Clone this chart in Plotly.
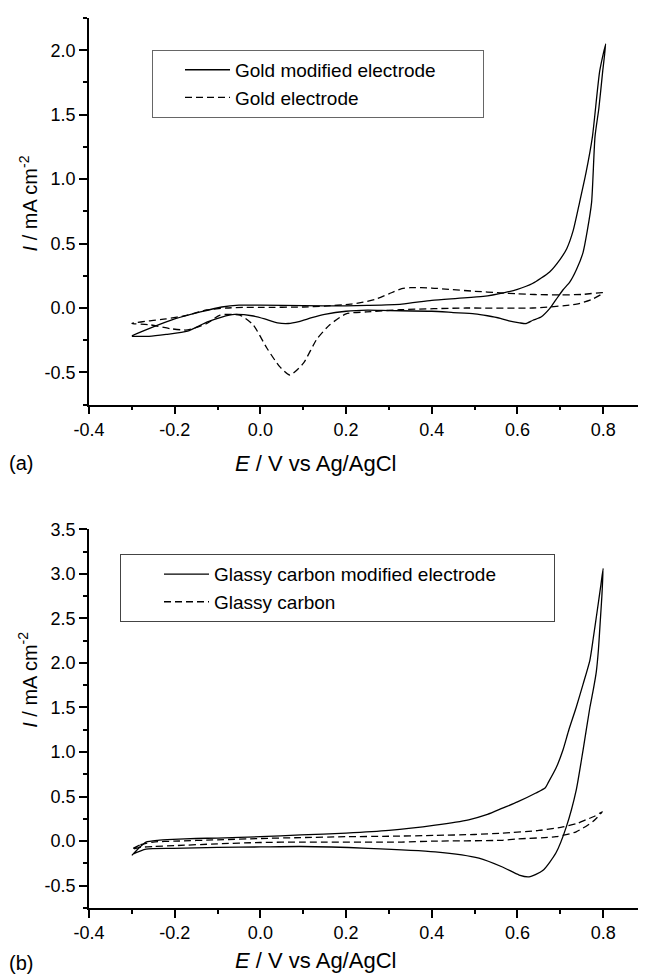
import plotly.graph_objects as go

# ---------------- data ----------------
# (a) Gold modified electrode: forward scan then reverse scan (E in V, I in mA cm-2)
GOLD_MOD_E = [-0.30, -0.26, -0.20, -0.14, -0.09, -0.05, 0.00, 0.10, 0.20, 0.25, 0.33, 0.40, 0.46,
              0.52, 0.57, 0.60, 0.635, 0.675, 0.70, 0.715, 0.73, 0.745, 0.76, 0.775, 0.792, 0.806,
              0.799, 0.79, 0.781, 0.773, 0.763, 0.753, 0.738, 0.722, 0.706, 0.69, 0.675, 0.655,
              0.636, 0.62, 0.605, 0.58, 0.56, 0.53, 0.50, 0.45, 0.40, 0.30, 0.25, 0.20, 0.15,
              0.12, 0.09, 0.065, 0.04, 0.01, -0.02, -0.06, -0.09, -0.125, -0.17, -0.22, -0.26, -0.30]
GOLD_MOD_I = [-0.215, -0.16, -0.085, -0.03, 0.008, 0.022, 0.022, 0.018, 0.017, 0.02, 0.03, 0.06, 0.075,
              0.09, 0.12, 0.145, 0.19, 0.28, 0.38, 0.46, 0.60, 0.82, 1.05, 1.33, 1.84, 2.05,
              1.84, 1.55, 1.33, 0.82, 0.60, 0.43, 0.30, 0.20, 0.14, 0.065, -0.005, -0.07,
              -0.095, -0.12, -0.115, -0.10, -0.08, -0.06, -0.045, -0.035, -0.025, -0.02, -0.017, -0.025, -0.05,
              -0.075, -0.105, -0.12, -0.115, -0.085, -0.06, -0.05, -0.07, -0.11, -0.18, -0.205, -0.22, -0.22]

# (a) Gold electrode
GOLD_E = [-0.30, -0.26, -0.22, -0.17, -0.125, -0.08, -0.04, 0.00, 0.10, 0.15, 0.21, 0.24, 0.27,
          0.30, 0.33, 0.35, 0.40, 0.44, 0.50, 0.56, 0.60, 0.64, 0.70, 0.75, 0.80,
          0.776, 0.738, 0.636, 0.48, 0.326, 0.248, 0.20, 0.162, 0.132, 0.10, 0.069, 0.045,
          0.015, -0.017, -0.048, -0.094, -0.125, -0.17, -0.21, -0.258, -0.30]
GOLD_I = [-0.12, -0.10, -0.085, -0.055, -0.015, 0.0, 0.005, 0.005, 0.008, 0.015, 0.03, 0.045, 0.07,
          0.11, 0.15, 0.158, 0.155, 0.145, 0.13, 0.118, 0.11, 0.105, 0.102, 0.105, 0.118,
          0.07, 0.03, 0.0, 0.0, -0.013, -0.03, -0.045, -0.13, -0.24, -0.43, -0.52, -0.455,
          -0.31, -0.13, -0.055, -0.055, -0.12, -0.17, -0.16, -0.13, -0.12]

# (b) Glassy carbon modified electrode
GC_MOD_E = [-0.30, -0.28, -0.267, -0.24, -0.204, -0.15, -0.10, 0.00, 0.094, 0.20, 0.30, 0.408,
            0.486, 0.53, 0.565, 0.60, 0.643, 0.665, 0.671, 0.69, 0.706, 0.72, 0.737, 0.753, 0.769,
            0.777, 0.786, 0.794, 0.80,
            0.797, 0.793, 0.789, 0.784, 0.777, 0.769, 0.753, 0.737, 0.714, 0.69, 0.659, 0.627,
            0.604, 0.565, 0.51, 0.408, 0.251, 0.094, 0.00, -0.10, -0.204, -0.267, -0.30]
GC_MOD_I = [-0.16, -0.06, -0.01, 0.01, 0.02, 0.03, 0.035, 0.05, 0.07, 0.09, 0.12, 0.18,
            0.24, 0.30, 0.37, 0.44, 0.54, 0.60, 0.65, 0.82, 1.02, 1.25, 1.50, 1.76, 2.03,
            2.28, 2.58, 2.85, 3.06,
            2.75, 2.45, 2.15, 1.90, 1.70, 1.50, 1.02, 0.57, 0.16, -0.13, -0.33, -0.40,
            -0.38, -0.29, -0.19, -0.12, -0.08, -0.06, -0.065, -0.07, -0.08, -0.09, -0.15]

# (b) Glassy carbon
GC_E = [-0.30, -0.28, -0.25, -0.20, -0.10, 0.00, 0.094, 0.20, 0.30, 0.408, 0.50, 0.565, 0.65,
        0.706, 0.74, 0.76, 0.78, 0.798,
        0.776, 0.737, 0.69, 0.60, 0.565, 0.40, 0.33, 0.094, 0.00, -0.10, -0.20, -0.25, -0.28, -0.30]
GC_I = [-0.09, -0.04, -0.01, 0.0, 0.015, 0.03, 0.04, 0.05, 0.055, 0.065, 0.075, 0.09, 0.12,
        0.16, 0.20, 0.24, 0.28, 0.33,
        0.22, 0.105, 0.05, 0.025, 0.01, 0.0, -0.01, -0.01, -0.015, -0.03, -0.05, -0.06, -0.07, -0.09]

X_TICKS = [-0.4, -0.2, 0.0, 0.2, 0.4, 0.6, 0.8]
X_LABELS = ["-0.4", "-0.2", "0.0", "0.2", "0.4", "0.6", "0.8"]
YA_TICKS = [-0.5, 0.0, 0.5, 1.0, 1.5, 2.0]
YA_LABELS = ["-0.5", "0.0", "0.5", "1.0", "1.5", "2.0"]
YB_TICKS = [-0.5, 0.0, 0.5, 1.0, 1.5, 2.0, 2.5, 3.0, 3.5]
YB_LABELS = ["-0.5", "0.0", "0.5", "1.0", "1.5", "2.0", "2.5", "3.0", "3.5"]

LEG_A = ["Gold modified electrode", "Gold electrode"]
LEG_B = ["Glassy carbon modified electrode", "Glassy carbon"]

X_TITLE = "<i>E</i> / V vs Ag/AgCl"
Y_TITLE = "<i>I</i> / mA cm<sup>-2</sup>"

# ---------------- figure ----------------
FONT = "Liberation Sans, Arial, Helvetica, sans-serif"
SOLID = dict(color="black", width=1.3, shape="spline", smoothing=0.6)
DASHED = dict(color="black", width=1.3, dash="7px,4px", shape="spline", smoothing=0.6)
PAD = "\u00a0"  # widens the legend frames like the reference

fig = go.Figure()
fig.add_trace(go.Scatter(x=GOLD_MOD_E, y=GOLD_MOD_I, mode="lines", name=LEG_A[0] + PAD * 8,
                         line=SOLID, xaxis="x", yaxis="y", legend="legend"))
fig.add_trace(go.Scatter(x=GOLD_E, y=GOLD_I, mode="lines", name=LEG_A[1],
                         line=DASHED, xaxis="x", yaxis="y", legend="legend"))
fig.add_trace(go.Scatter(x=GC_MOD_E, y=GC_MOD_I, mode="lines", name=LEG_B[0] + PAD * 10,
                         line=SOLID, xaxis="x2", yaxis="y2", legend="legend2"))
fig.add_trace(go.Scatter(x=GC_E, y=GC_I, mode="lines", name=LEG_B[1],
                         line=DASHED, xaxis="x2", yaxis="y2", legend="legend2"))

def axis_style(minor_dtick, minor_tick0):
    return dict(showline=True, linecolor="black", linewidth=1.5, ticks="outside",
                ticklen=8, tickwidth=1.5, tickcolor="black", showgrid=False, zeroline=False,
                tickfont=dict(family=FONT, size=18, color="black"),
                minor=dict(ticks="outside", ticklen=4, tickwidth=1.5, tickcolor="black",
                           tickmode="linear", tick0=minor_tick0, dtick=minor_dtick, showgrid=False))

H = 893.0  # plot-area height in px
top_dom = [1 - 388 / H, 1.0]
bot_dom = [0.0, 380 / H]

fig.update_layout(
    width=638, height=966,
    margin=dict(l=81, r=0, t=7, b=66),
    paper_bgcolor="white", plot_bgcolor="white",
    font=dict(family=FONT, color="black"),
    xaxis=dict(axis_style(0.1, -0.4), range=[-0.4, 0.9], tickmode="array",
               tickvals=X_TICKS, ticktext=X_LABELS, anchor="y", domain=[0, 1]),
    yaxis=dict(axis_style(0.25, -0.75), range=[-0.75, 2.25], tickmode="array",
               tickvals=YA_TICKS, ticktext=YA_LABELS, anchor="x", domain=top_dom),
    xaxis2=dict(axis_style(0.1, -0.4), range=[-0.4, 0.9], tickmode="array",
                tickvals=X_TICKS, ticktext=X_LABELS, anchor="y2", domain=[0, 1]),
    yaxis2=dict(axis_style(0.25, -0.75), range=[-0.75, 3.5], tickmode="array",
                tickvals=YB_TICKS, ticktext=YB_LABELS, anchor="x2", domain=bot_dom),
    legend=dict(x=(152 - 89) / 557, y=(908 - 47) / H, xanchor="left", yanchor="top",
                bgcolor="white", bordercolor="#666666", borderwidth=1,
                font=dict(family=FONT, size=19, color="black"), indentation=27,
                itemwidth=45),
    legend2=dict(x=(120 - 89) / 557, y=(908 - 553) / H, xanchor="left", yanchor="top",
                 bgcolor="white", bordercolor="#444444", borderwidth=1,
                 font=dict(family=FONT, size=19, color="black"), indentation=38,
                 itemwidth=45),
    annotations=[
        dict(text=X_TITLE, xref="paper", yref="paper", x=(315 - 89) / 557, y=(908 - 462) / H,
             showarrow=False, font=dict(family=FONT, size=22), xanchor="center", yanchor="middle"),
        dict(text=X_TITLE, xref="paper", yref="paper", x=(315 - 89) / 557, y=(908 - 961) / H,
             showarrow=False, font=dict(family=FONT, size=22), xanchor="center", yanchor="middle"),
        dict(text=Y_TITLE, xref="paper", yref="paper", x=(28 - 89) / 557, y=(908 - 201) / H,
             showarrow=False, textangle=-90, font=dict(family=FONT, size=20),
             xanchor="center", yanchor="middle"),
        dict(text=Y_TITLE, xref="paper", yref="paper", x=(28 - 89) / 557, y=(908 - 679) / H,
             showarrow=False, textangle=-90, font=dict(family=FONT, size=20),
             xanchor="center", yanchor="middle"),
        dict(text="(a)", xref="paper", yref="paper", x=(21 - 89) / 557, y=(908 - 462) / H,
             showarrow=False, font=dict(family=FONT, size=20), xanchor="center", yanchor="middle"),
        dict(text="(b)", xref="paper", yref="paper", x=(21 - 89) / 557, y=(908 - 963) / H,
             showarrow=False, font=dict(family=FONT, size=20), xanchor="center", yanchor="middle"),
    ],
)

fig.write_html("out.html")
